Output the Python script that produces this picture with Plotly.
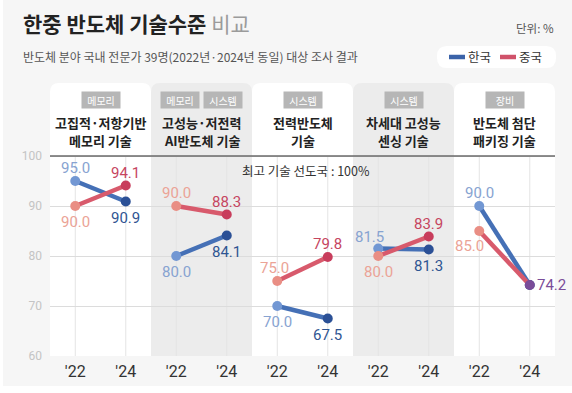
import plotly.graph_objects as go

# ---------------- data ----------------
panel_line1 = ["고집적·저항기반", "고성능·저전력", "전력반도체", "차세대 고성능", "반도체 첨단"]
panel_line2 = ["메모리 기술", "AI반도체 기술", "기술", "센싱 기술", "패키징 기술"]
panel_tags = [["메모리"], ["메모리", "시스템"], ["시스템"], ["시스템"], ["장비"]]
years = ["'22", "'24"]
korea = [[95.0, 90.9], [80.0, 84.1], [70.0, 67.5], [81.5, 81.3], [90.0, 74.2]]
china = [[90.0, 94.1], [90.0, 88.3], [75.0, 79.8], [80.0, 83.9], [85.0, 74.2]]
y_ticks = [60, 70, 80, 90, 100]

# ---------------- styles ----------------
FONT = "Noto Sans CJK KR"
NUMFONT = "Roboto"
W, H = 572, 393
ML, MR, MT, MB = 50, 17, 83, 37
PW, PH = W - ML - MR, H - MT - MB
YMIN = 60
YMAX = YMIN + PH / 5.0

KOR = dict(line="#4570b6", c22="#7297d3", c24="#2b5096", lab22="#87a3d1", lab24="#2f5592")
CHN = dict(line="#d85a6c", c22="#e98e84", c24="#c83d5c", lab22="#eba396", lab24="#c6455f")
PURPLE = "#7a4c99"
offs = [-0.25, 0.25]

UP, DOWN = (0, 13), (0, -16)
kor_pos = [[UP, DOWN], [DOWN, DOWN], [DOWN, DOWN], [(-9, 12), DOWN], [UP, None]]
chn_pos = [[DOWN, UP], [UP, UP], [(-3, 13), UP], [DOWN, UP], [(-10, -15), "right"]]


def px(x):
    return (x - ML) / PW


def py(y):
    return (H - MB - y) / PH


def dy(y):
    return YMIN + (H - MB - y) / 5.0


def top_round(x0, x1, y0, y1, rx, ry):
    return (f"M {x0},{y0} L {x0},{y1-ry} Q {x0},{y1} {x0+rx},{y1} "
            f"L {x1-rx},{y1} Q {x1},{y1} {x1},{y1-ry} L {x1},{y0} Z")


def full_round(x0, x1, y0, y1, rx, ry):
    return (f"M {x0+rx},{y0} L {x1-rx},{y0} Q {x1},{y0} {x1},{y0+ry} "
            f"L {x1},{y1-ry} Q {x1},{y1} {x1-rx},{y1} L {x0+rx},{y1} "
            f"Q {x0},{y1} {x0},{y1-ry} L {x0},{y0+ry} Q {x0},{y0} {x0+rx},{y0} Z")


fig = go.Figure()
shapes = []
annotations = []

# outer white strips
shapes.append(dict(type="rect", xref="paper", yref="paper", x0=px(0), x1=px(3), y0=py(H), y1=py(0),
                   fillcolor="white", line_width=0, layer="below"))
shapes.append(dict(type="rect", xref="paper", yref="paper", x0=px(0), x1=px(W), y0=py(H), y1=py(386),
                   fillcolor="white", line_width=0, layer="below"))

# panel backgrounds
n = len(panel_line1)
for i in range(n):
    col = "#ffffff" if i % 2 == 0 else "#ececec"
    shapes.append(dict(type="path", xref="x", yref="y",
                       path=top_round(i - 0.5, i + 0.5, YMIN, YMAX, 9 / 101, 9 / 5),
                       fillcolor=col, line_width=0, layer="below"))
# vertical faint grid lines
for i in range(n):
    for o in offs:
        shapes.append(dict(type="line", xref="x", yref="y", x0=i + o, x1=i + o, y0=YMIN, y1=100,
                           line=dict(color="#e4e4e4", width=1), layer="below"))
# 100 line
shapes.append(dict(type="line", xref="x", yref="y", x0=-0.5, x1=n - 0.5, y0=100, y1=100,
                   line=dict(color="#6a6a6a", width=1.6), layer="above"))

# series traces
for i in range(n):
    xs = [i + o for o in offs]
    for vals, st in ((korea[i], KOR), (china[i], CHN)):
        mcols = [st["c22"], st["c24"]]
        if st is CHN and korea[i][1] == china[i][1]:
            mcols[1] = PURPLE
        fig.add_trace(go.Scatter(x=xs, y=vals, mode="lines+markers",
                                 line=dict(color=st["line"], width=4.5),
                                 marker=dict(color=mcols, size=10),
                                 hoverinfo="skip", showlegend=False))

# value labels
for i in range(n):
    for vals, st, pos in ((korea[i], KOR, kor_pos[i]), (china[i], CHN, chn_pos[i])):
        for j in range(2):
            if pos[j] is None:
                continue
            col = st["lab22"] if j == 0 else st["lab24"]
            if j == 1 and korea[i][1] == china[i][1]:
                col = PURPLE
            if pos[j] == "right":
                annotations.append(dict(x=i + offs[j], y=vals[j], xref="x", yref="y",
                                        text=f"{vals[j]:.1f}", showarrow=False,
                                        xanchor="left", xshift=5,
                                        font=dict(family=NUMFONT, size=15, color=col)))
                continue
            annotations.append(dict(x=i + offs[j], y=vals[j], xref="x", yref="y",
                                    text=f"{vals[j]:.1f}", showarrow=False,
                                    xshift=pos[j][0], yshift=pos[j][1],
                                    font=dict(family=NUMFONT, size=15, color=col)))

# panel headers
for i in range(n):
    tags = panel_tags[i]
    k = len(tags)
    for t, tag in enumerate(tags):
        annotations.append(dict(x=i, y=dy(99.5), xref="x", yref="y",
                                text=tag, showarrow=False, xshift=(t - (k - 1) / 2) * 43,
                                bgcolor="#b6b6b6", width=36, height=14, borderpad=1,
                                font=dict(family=FONT, size=10, color="white")))
    for txt, yy in ((panel_line1[i], 122), (panel_line2[i], 140)):
        annotations.append(dict(x=i, y=dy(yy), xref="x", yref="y",
                                text=f"<b>{txt}</b>", showarrow=False,
                                font=dict(family=FONT, size=13, color="#222222")))

annotations.append(dict(x=2.035, y=dy(170), xref="x", yref="y",
                        text="최고 기술 선도국 : 100%", showarrow=False,
                        font=dict(family=FONT, size=12.5, color="#333333")))

# title block
annotations.append(dict(x=px(21), y=py(23), xref="paper", yref="paper", xanchor="left",
                        yanchor="middle",
                        text="<b>한중 반도체 기술수준</b> <span style='color:#9b9b9b'>비교</span>",
                        showarrow=False, font=dict(family=FONT, size=21, color="#222222")))
annotations.append(dict(x=px(21), y=py(57), xref="paper", yref="paper", xanchor="left",
                        yanchor="middle",
                        text="반도체 분야 국내 전문가 39명(2022년·2024년 동일) 대상 조사 결과",
                        showarrow=False, font=dict(family=FONT, size=12, color="#555555")))
annotations.append(dict(x=px(556), y=py(28), xref="paper", yref="paper", xanchor="right",
                        yanchor="middle", text="단위: %", showarrow=False,
                        font=dict(family=FONT, size=11.5, color="#555555")))

# legend
shapes.append(dict(type="path", xref="paper", yref="paper",
                   path=full_round(px(437), px(556), py(68), py(46), 10 / PW, 10 / PH),
                   fillcolor="white", line_width=0, layer="below"))
for x0, name, col in ((449, "한국", "#3b63a9"), (500, "중국", "#d0526a")):
    shapes.append(dict(type="line", xref="paper", yref="paper", x0=px(x0), x1=px(x0 + 16),
                       y0=py(57), y1=py(57), line=dict(color=col, width=4.5)))
    annotations.append(dict(x=px(x0 + 17), y=py(57), xref="paper", yref="paper",
                            xanchor="left", yanchor="middle", text=name, showarrow=False,
                            font=dict(family=FONT, size=12.5, color="#333333")))

tick_x = [i + o for i in range(n) for o in offs]
tick_t = [years[j] for i in range(n) for j in range(2)]

fig.update_layout(
    width=W, height=H, margin=dict(l=ML, r=MR, t=MT, b=MB, autoexpand=False),
    paper_bgcolor="#f6f6f6", plot_bgcolor="rgba(0,0,0,0)",
    shapes=shapes, annotations=annotations, showlegend=False,
    xaxis=dict(range=[-0.5, n - 0.5], tickvals=tick_x, ticktext=tick_t, showgrid=False,
               zeroline=False, showline=False, ticks="", fixedrange=True,
               tickfont=dict(family=NUMFONT, size=16, color="#333333"), ticklabelstandoff=4),
    yaxis=dict(range=[YMIN, YMAX], tickvals=y_ticks, showgrid=True, gridcolor="#dcdcdc",
               gridwidth=1, zeroline=False, showline=False, ticks="", fixedrange=True,
               tickfont=dict(family=NUMFONT, size=12, color="#c4c4c4"), ticklabelstandoff=7),
)

fig.write_html("out.html",
               config={"displayModeBar": False, "staticPlot": True},
               post_script="document.documentElement.style.margin='0';"
                           "document.body.style.margin='0';"
                           "document.body.style.overflow='hidden';")
